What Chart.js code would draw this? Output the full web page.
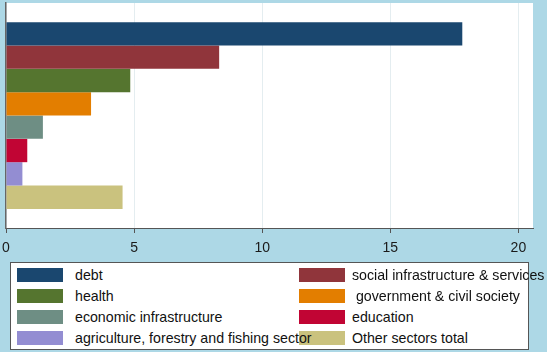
<!DOCTYPE html>
<html>
<head>
<meta charset="utf-8">
<script src="https://cdn.jsdelivr.net/npm/chart.js@4"></script>
<style>
    html, body { margin: 0; padding: 0; }
    body { width: 547px; height: 352px; background: #add8e6; position: relative; overflow: hidden; font-family: "Liberation Sans", Arial, sans-serif; }
    #salesChart { position: absolute; left: 0; top: 0; }
    #legend { position: absolute; left: 10px; top: 262px; width: 519px; height: 88px; background: #fff; border: 1px solid #555; box-sizing: border-box; }
    .item { position: absolute; height: 15px; font-size: 14.2px; color: #111; white-space: nowrap; }
    .swatch { position: absolute; left: 0; top: 0; width: 46px; height: 14px; z-index: 1; }
    .item span { position: absolute; top: -2px; line-height: 18px; z-index: 2; }
</style>
</head>
<body>
<canvas id="salesChart" width="547" height="352"></canvas>
<div id="legend"></div>
<script>
// datos
const categories = ['debt', 'social infrastructure & services', 'health', ' government & civil society',
    'economic infrastructure', 'education', 'agriculture, forestry and fishing sector', 'Other sectors total'];
const values = [17.81, 8.32, 4.85, 3.32, 1.44, 0.83, 0.64, 4.55];
const colors = ['#1a476f', '#90353b', '#55752f', '#e37e00', '#6e8e84', '#c10534', '#938dd2', '#cac27e'];
const xTicks = [0, 5, 10, 15, 20];

document.addEventListener('DOMContentLoaded', () => {
    // leyenda en dos columnas
    const legend = document.getElementById('legend');
    categories.forEach((name, i) => {
        const row = Math.floor(i / 2);
        const col = i % 2;
        const item = document.createElement('div');
        item.className = 'item';
        item.style.left = (col === 0 ? 6 : 288) + 'px';
        item.style.top = (5 + row * 21) + 'px';
        item.innerHTML = '<div class="swatch" style="background:' + colors[i] + '"></div>' +
            '<span style="left:' + (col === 0 ? 58 : 53) + 'px">' + name.replace(/&/g, '&amp;').replace(/^ /, '&nbsp;') + '</span>';
        legend.appendChild(item);
    });

    // fondo blanco del area del grafico
    const plotBg = {
        id: 'plotBg',
        beforeDraw(chart) {
            const a = chart.chartArea;
            const c = chart.ctx;
            c.save();
            c.fillStyle = '#ffffff';
            c.fillRect(a.left, a.top, a.right - a.left, a.bottom - a.top);
            c.restore();
        }
    };

    const ctx = document.getElementById('salesChart').getContext('2d');
    new Chart(ctx, {
        type: 'bar',
        data: {
            labels: [''],
            datasets: categories.map((name, i) => ({
                label: name,
                data: [values[i]],
                backgroundColor: colors[i],
                borderWidth: 0
            }))
        },
        options: {
            indexAxis: 'y',
            responsive: false,
            animation: false,
            devicePixelRatio: 1,
            categoryPercentage: 0.83,
            barPercentage: 1,
            layout: { padding: { left: 6, top: 3, right: 14, bottom: 0 } },
            scales: {
                x: {
                    type: 'linear',
                    min: 0,
                    max: 20.57,
                    afterBuildTicks: axis => { axis.ticks = xTicks.map(v => ({ value: v })); },
                    afterFit: s => { s.height = 124; s.paddingLeft = 0; s.paddingRight = 0; },
                    ticks: {
                        color: '#1a1a1a',
                        padding: 7,
                        maxRotation: 0,
                        font: { family: '"Liberation Sans", Arial, sans-serif', size: 14 }
                    },
                    grid: { color: '#e4edf0', tickColor: '#555', tickLength: 5 },
                    border: { color: '#555', width: 1 }
                },
                y: {
                    afterFit: s => { s.width = 0; },
                    ticks: { display: false },
                    grid: { display: false },
                    border: { color: '#666', width: 1.5 }
                }
            },
            plugins: {
                legend: { display: false },
                tooltip: { enabled: false }
            }
        },
        plugins: [plotBg]
    });
});
</script>
</body>
</html>
